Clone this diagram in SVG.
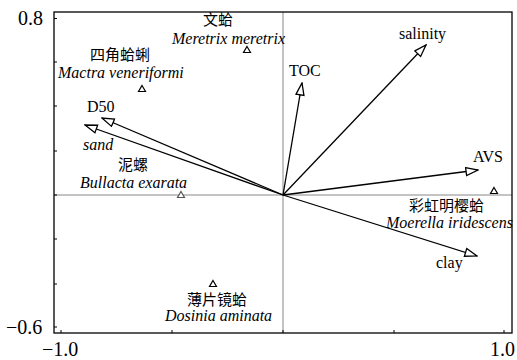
<svg xmlns="http://www.w3.org/2000/svg" width="517" height="360" viewBox="0 0 517 360">
<style>
text{font-family:'Liberation Serif','DejaVu Serif',serif}
.lat{font-size:16px;fill:#000}
.it{font-style:italic}
.cjk{font-family:'Noto Sans CJK SC',sans-serif;font-size:15px;fill:#000}
.ax{font-size:20px;fill:#000}
.vec{stroke:#000;stroke-width:1.3;fill:none;marker-end:url(#ah)}
.sp{fill:#fff;stroke:#000;stroke-width:1.2}
</style>
<defs>
<marker id="ah" markerUnits="userSpaceOnUse" viewBox="0 0 14 10" refX="13" refY="5" markerWidth="14" markerHeight="10" orient="auto">
<path d="M1,1 L13,5 L1,9 Z" fill="#fff" stroke="#000" stroke-width="1.3"/>
</marker>
<path id="tri" d="M0,-3.5 L3.5,2.5 L-3.5,2.5 Z"/>
</defs>
<rect width="517" height="360" fill="#fff"/>
<g id="axes">
<line x1="54" y1="195" x2="512" y2="195" stroke="#888" stroke-width="1"/>
<line x1="283" y1="12" x2="283" y2="333" stroke="#888" stroke-width="1"/>
<rect x="54" y="12" width="458" height="321" fill="none" stroke="#000" stroke-width="1.3"/>
<g stroke="#000" stroke-width="1">
<line x1="54" y1="18.5" x2="57" y2="18.5"/>
<line x1="54" y1="62" x2="57" y2="62"/>
<line x1="54" y1="106" x2="57" y2="106"/>
<line x1="54" y1="151" x2="57" y2="151"/>
<line x1="54" y1="195" x2="57" y2="195"/>
<line x1="54" y1="239" x2="57" y2="239"/>
<line x1="54" y1="284" x2="57" y2="284"/>
<line x1="54" y1="327" x2="57" y2="327"/>
<line x1="61" y1="333" x2="61" y2="330"/>
<line x1="172" y1="333" x2="172" y2="330"/>
<line x1="283" y1="333" x2="283" y2="330"/>
<line x1="394" y1="333" x2="394" y2="330"/>
<line x1="504" y1="333" x2="504" y2="330"/>
</g>
<text class="ax" x="18" y="25">0.8</text>
<text class="ax" x="6" y="334">−0.6</text>
<text class="ax" x="42" y="356">−1.0</text>
<text class="ax" x="490" y="356">1.0</text>
</g>
<g id="connectors">
<line class="vec" x1="283" y1="195" x2="102" y2="118"/>
<line class="vec" x1="283" y1="195" x2="85" y2="125"/>
<line class="vec" x1="283" y1="195" x2="302" y2="83"/>
<line class="vec" x1="283" y1="195" x2="426" y2="45"/>
<line class="vec" x1="283" y1="195" x2="478" y2="170"/>
<line class="vec" x1="283" y1="195" x2="477" y2="256"/>
</g>
<g id="env-labels">
<text id="D50" class="lat" x="87" y="112">D50</text>
<text id="sand" class="lat it" x="83" y="150">sand</text>
<text id="TOC" class="lat" x="289" y="76">TOC</text>
<text id="salinity" class="lat" x="399" y="39">salinity</text>
<text id="AVS" class="lat" x="473" y="162">AVS</text>
<text id="clay" class="lat" x="436" y="268">clay</text>
</g>
<g id="meretrix">
<use href="#tri" x="247" y="50" class="sp"/>
<text class="cjk" x="203" y="25">文蛤</text>
<text class="lat it" x="172" y="44">Meretrix meretrix</text>
</g>
<g id="mactra">
<use href="#tri" x="142" y="89" class="sp"/>
<text class="cjk" x="90" y="60">四角蛤蜊</text>
<text class="lat it" x="58" y="78">Mactra veneriformi</text>
</g>
<g id="bullacta">
<use href="#tri" x="181" y="195" class="sp" style="stroke:#555"/>
<text class="cjk" x="118" y="170">泥螺</text>
<text class="lat it" x="80" y="188">Bullacta exarata</text>
</g>
<g id="moerella">
<use href="#tri" x="494" y="191" class="sp"/>
<text class="cjk" x="409" y="211">彩虹明樱蛤</text>
<text class="lat it" x="386" y="228">Moerella iridescens</text>
</g>
<g id="dosinia">
<use href="#tri" x="213" y="284" class="sp"/>
<text class="cjk" x="187" y="305">薄片镜蛤</text>
<text class="lat it" x="165" y="321">Dosinia aminata</text>
</g>
</svg>
